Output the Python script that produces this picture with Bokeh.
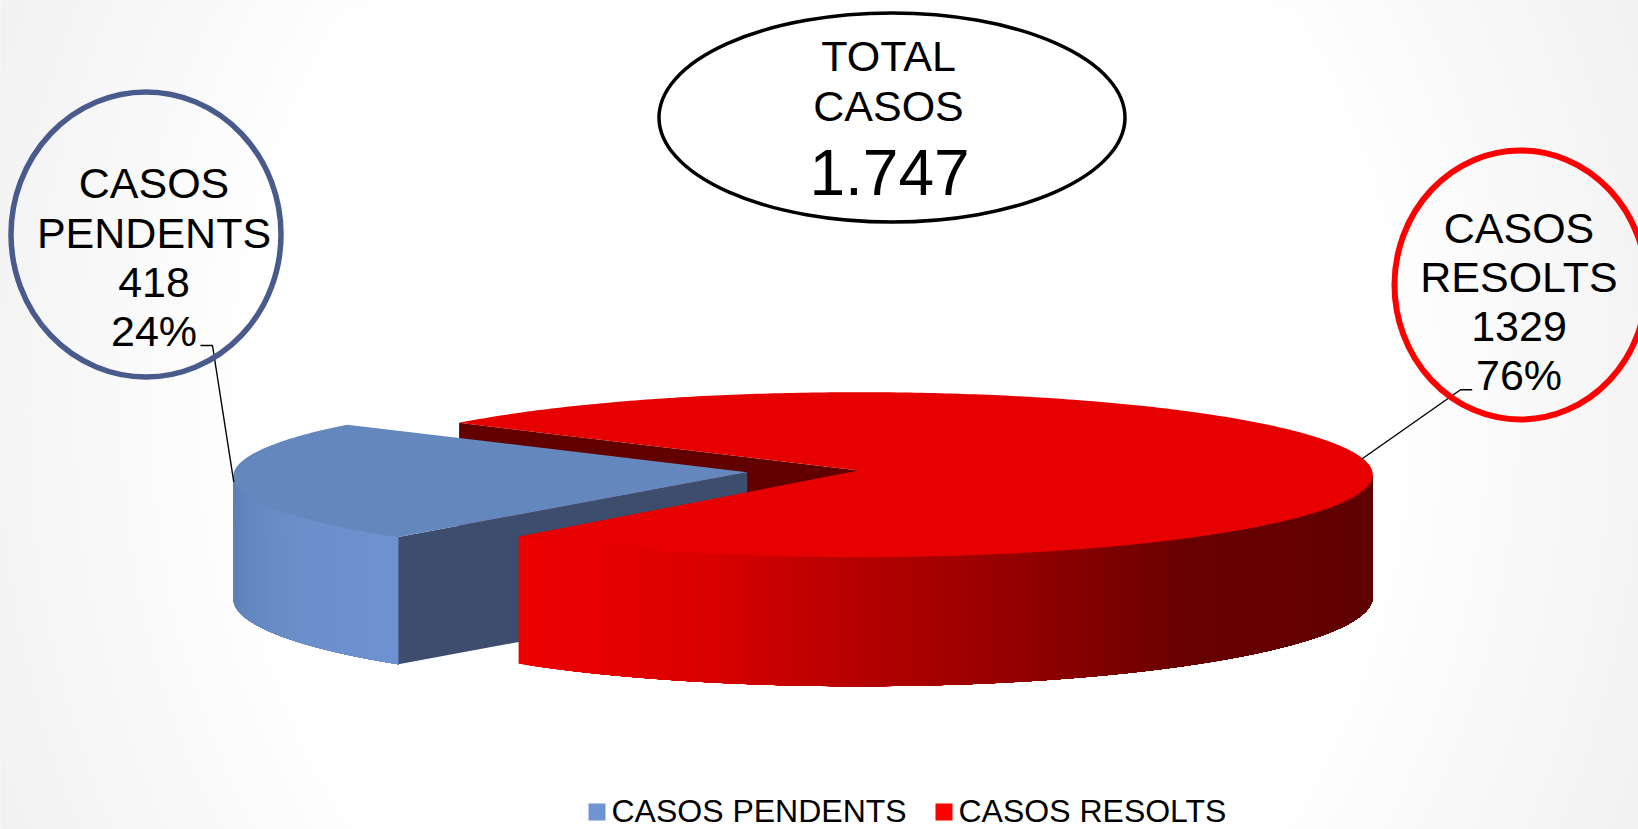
import numpy as np
from bokeh.core.properties import value
from bokeh.embed import file_html
from bokeh.models import Range1d
from bokeh.plotting import figure
from bokeh.resources import INLINE

# ---- data ----
categories = ["CASOS PENDENTS", "CASOS RESOLTS"]
case_counts = [418, 1329]
percent_labels = ["24%", "76%"]
total_label = "1.747"

# ---- layout (pixels of the 1638x829 canvas, y pointing down) ----
W, H = 1638, 829
RX, RY = 514, 82.5
RED_C = (858.3, 474.2)
BLUE_C = (746.7, 476.0)
APEX_LIFT = 4.2
MID_BLUE = 184.2
MID_RED_GAP = 184.8
GAP_WIDEN = 1.016
FONT = value("Liberation Sans")
BASE_FIX = 0.35
LEGEND_Y = 822.0

share = case_counts[0] / sum(case_counts)
half = 180 * share
B0, B1 = MID_BLUE - half, MID_BLUE + half
R0, R1 = MID_RED_GAP - half * GAP_WIDEN, MID_RED_GAP + half * GAP_WIDEN

p = figure(width=W, height=H, x_range=Range1d(0, W), y_range=Range1d(H, 0),
           toolbar_location=None, output_backend="svg", min_border=0,
           margin=(0, 0, 0, 0), background_fill_color="#f1f1f1",
           border_fill_color="#f1f1f1")
p.grid.visible = False
p.outline_line_color = None
p.xaxis.visible = False
p.yaxis.visible = False

# background vignette
for g in range(242, 256):
    r = 570 + (255 - g) * 24.9
    p.ellipse([W / 2], [414], width=2 * r, height=2 * r * 1.156,
              fill_color=f"#{g:02x}{g:02x}{g:02x}", line_color=None)


def arc(c, a, b, n=200):
    th = np.radians(np.linspace(a, b, n))
    return c[0] + RX * np.cos(th), c[1] - RY * np.sin(th)


def pt(c, a):
    th = np.radians(a)
    return c[0] + RX * np.cos(th), c[1] - RY * np.sin(th)


def depth(a):
    # the wall looks a little taller nearer the viewer
    return 122 + 7 * np.maximum(0, -np.sin(np.radians(a)))


def hexmix(x, xs, stops):
    r = np.interp(x, xs, [s[0] for s in stops])
    g = np.interp(x, xs, [s[1] for s in stops])
    b = np.interp(x, xs, [s[2] for s in stops])
    return f"#{int(r):02x}{int(g):02x}{int(b):02x}"


def wall(c, a, b, xs, stops, step=0.8):
    edges = np.arange(a, b + step / 2, step)
    edges[-1] = b
    px, py, col = [], [], []
    # each strip runs to the wall's far end; the next one paints over it
    for e0, e1 in zip(edges[:-1], edges[1:]):
        ang = np.linspace(e0, b, 60)
        ex, ey = arc(c, e0, b, 60)
        px.append(np.r_[ex, ex[::-1]])
        py.append(np.r_[ey, (ey + depth(ang))[::-1]])
        x0, _ = pt(c, e0)
        x1, _ = pt(c, e1)
        col.append(hexmix((x0 + x1) / 2, xs, stops))
    p.patches(px, py, fill_color=col, line_color=None)


# red cut wall (dark), behind the blue slice
rax, ray = RED_C[0], RED_C[1] - APEX_LIFT
cx, cy = pt(RED_C, R0)
p.patch([rax, cx, cx, rax], [ray, cy, cy + 125, ray + 125],
        fill_color="#620000", line_color=None)

# blue slice
bax, bay = BLUE_C[0], BLUE_C[1] - APEX_LIFT
wall(BLUE_C, 180, B1, [233, 250, 300, 400],
     [(92, 128, 186), (99, 136, 194), (107, 144, 203), (110, 147, 208)])
cx, cy = pt(BLUE_C, B1)
d1 = float(depth(B1))
p.patch([bax, cx, cx, bax], [bay, cy, cy + d1, bay + d1],
        fill_color="#3c4d6e", line_color=None)
ax_, ay_ = arc(BLUE_C, B0, B1)
p.patch(np.r_[bax, ax_], np.r_[bay, ay_], fill_color="#6487bd", line_color=None)

# red slice
wall(RED_C, R1, 360, [518, 700, 813, 900, 1000, 1100, 1180, 1372],
     [(238, 0, 0), (220, 0, 0), (192, 0, 0), (172, 0, 0),
      (152, 0, 0), (128, 0, 0), (106, 0, 0), (96, 0, 0)])
ax_, ay_ = arc(RED_C, R1, 360 + R0, 400)
p.patch(np.r_[rax, ax_], np.r_[ray, ay_], fill_color="#e60000", line_color=None)

# leader lines
p.line([200, 212, 233.3], [345, 345, 481.7], line_color="black", line_width=1.4)
p.line([1471.7, 1460, 1361.7], [389.3, 389.3, 458.3], line_color="black", line_width=1.4)

# callout ellipses
p.ellipse([145.5], [234], width=270, height=285, fill_color=None,
          line_color="#495a8c", line_width=5.5)
p.ellipse([1520], [284.5], width=252, height=269, fill_color=None,
          line_color="#ff0000", line_width=6)
p.ellipse([891.5], [117], width=466, height=209, fill_color=None,
          line_color="black", line_width=3.5)


def label(x, y, s, size, align="center"):
    p.text([x], [y - BASE_FIX * size], text=[s], text_font=FONT,
           text_font_size=value(f"{size}px"), text_align=align,
           text_baseline="alphabetic", text_color="black")


for y, s in zip([198, 248, 297, 346],
                ["CASOS", "PENDENTS", str(case_counts[0]), percent_labels[0]]):
    label(153.5, y, s, 43)
for y, s in zip([243, 292, 341, 390],
                ["CASOS", "RESOLTS", str(case_counts[1]), percent_labels[1]]):
    label(1518.5, y, s, 43)
label(888, 71, "TOTAL", 43)
label(888, 121, "CASOS", 43)
label(889, 194, total_label, 64)

# legend
p.quad(left=[588], right=[605], top=[LEGEND_Y - 19], bottom=[LEGEND_Y - 2],
       fill_color="#6e95d2", line_color=None)
p.quad(left=[935], right=[952], top=[LEGEND_Y - 19], bottom=[LEGEND_Y - 2],
       fill_color="#ff0000", line_color=None)
label(611, LEGEND_Y, categories[0], 32, "left")
label(958, LEGEND_Y, categories[1], 32, "left")

open("out.html", "w").write(file_html(p, INLINE))
